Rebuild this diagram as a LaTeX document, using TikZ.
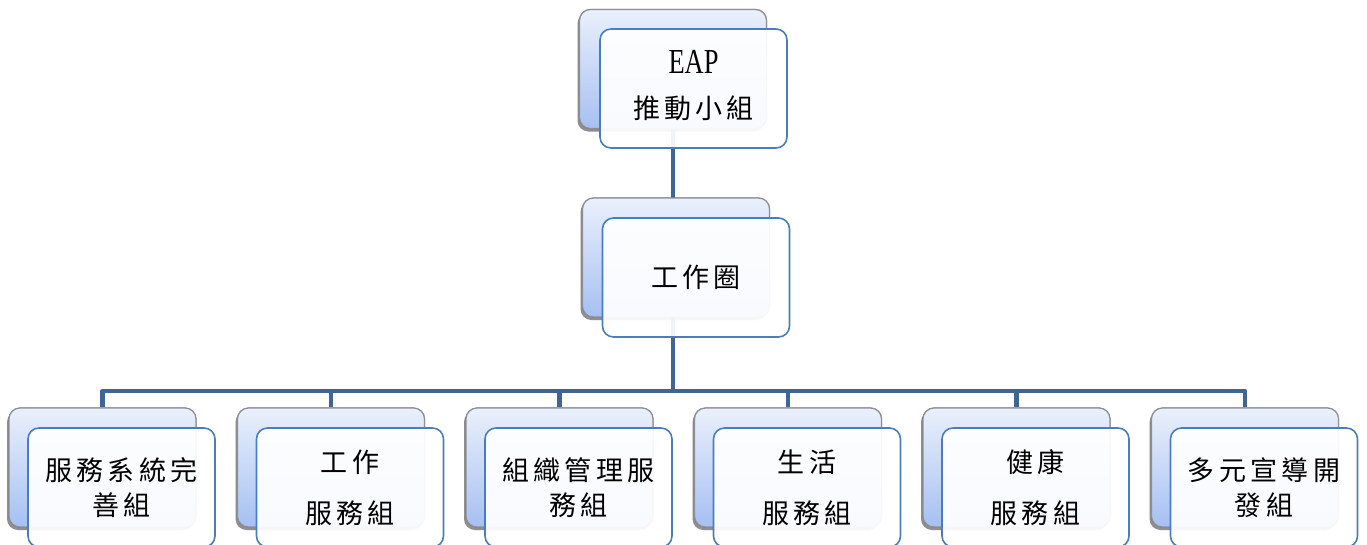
\documentclass[tikz,border=0pt]{standalone}
\usepackage{fontspec}
\usepackage{graphicx}
\setmainfont{Liberation Serif}
\newfontfamily\cjk[LetterSpace=16]{Noto Sans CJK TC}
\usetikzlibrary{shadows}
\definecolor{linkblue}{HTML}{3F6597}
\definecolor{frontborder}{HTML}{4A7EBB}
\definecolor{backtop}{HTML}{EAF0FC}
\definecolor{backbot}{HTML}{A6C0F2}
\definecolor{backborder}{HTML}{8E9096}
\begin{document}
\begin{tikzpicture}[x=1pt,y=-1pt,
  backbox/.style={draw=backborder, line width=1.2pt, rounded corners=11pt,
    minimum width=187pt, minimum height=119pt, inner sep=0pt,
    top color=backtop, bottom color=backbot, shading angle=0,
    drop shadow={shadow xshift=-2pt, shadow yshift=-3pt, fill=black, opacity=0.25}},
  frontbox/.style={draw=frontborder, line width=1.6pt, rounded corners=11pt,
    minimum width=187pt, minimum height=119pt, inner sep=0pt,
    fill=white, fill opacity=0.93, text opacity=1, align=center,
    font=\fontsize{27}{35}\selectfont\cjk},
  link/.style={draw=linkblue, line width=4.5pt}
]
\useasboundingbox (0,0) rectangle (1367,544);

% back boxes
\node[backbox] (eapb) at (673,69) {};
\node[backbox] (workb) at (676,257.5) {};
\foreach \i/\x in {1/102.5,2/331,3/559.5,4/788,5/1016.5,6/1245}{
  \node[backbox] (b\i) at (\x,467.5) {};
}
% connectors
\draw[link] (673,128) -- (673,198);
\foreach \i in {1,...,6}{
  \draw[link, line join=round] (673,317) -- (673,391) -| (b\i.north);
}
% redraw back boxes above connectors
\node[backbox] at (eapb) {};
\node[backbox] at (workb) {};
\foreach \i/\x in {1/102.5,2/331,3/559.5,4/788,5/1016.5,6/1245}{
  \node[backbox] at (\x,467.5) {};
}
% front boxes
\node[frontbox, label={[align=center, font=\fontsize{27}{35}\selectfont\cjk, yshift=2.5pt]center:{\rmfamily\scalebox{0.98}[1.3]{EAP}}\\[10pt]推動小組}] (eapf) at (693.5,88.5) {};
\node[frontbox] (workf) at (696,277.5) {工作圈};
\node[frontbox] (f1) at (121.5,487.5) {服務系統完\\善組};
\node[frontbox] (f2) at (350,487.5) {工作\\[16pt]服務組};
\node[frontbox] (f3) at (578.5,487.5) {組織管理服\\務組};
\node[frontbox] (f4) at (807,487.5) {生活\\[16pt]服務組};
\node[frontbox] (f5) at (1035.5,487.5) {健康\\[16pt]服務組};
\node[frontbox] (f6) at (1264,487.5) {多元宣導開\\發組};
\end{tikzpicture}
\end{document}
